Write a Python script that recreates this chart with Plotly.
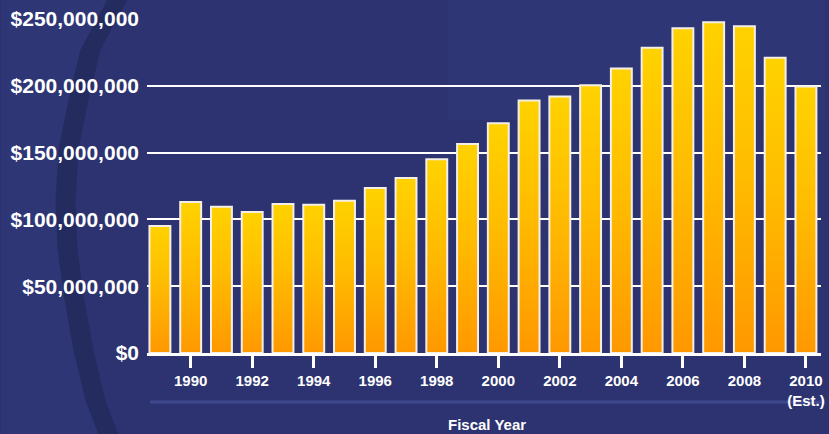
import plotly.graph_objects as go

# ---- data ----
years = list(range(1989, 2011))
values = [95e6, 113e6, 109.5e6, 105.5e6, 111.5e6, 111e6, 114e6, 123.5e6, 131e6, 145e6,
          156.5e6, 172e6, 189e6, 192e6, 200.5e6, 213e6, 228.5e6, 243e6, 247.5e6, 244.5e6,
          221e6, 199.5e6]
x_tick_vals = [1990, 1992, 1994, 1996, 1998, 2000, 2002, 2004, 2006, 2008, 2010]
x_tick_text = ["1990", "1992", "1994", "1996", "1998", "2000", "2002", "2004", "2006", "2008",
               "2010<br>(Est.)"]
y_tick_vals = [0, 50e6, 100e6, 150e6, 200e6, 250e6]
y_tick_text = ["$0", "$50,000,000", "$100,000,000", "$150,000,000", "$200,000,000", "$250,000,000"]
x_title = "Fiscal Year"

# ---- layout geometry ----
W, H = 829, 434
ML, MR, MT, MB = 147, 4, 19, 81
PW, PH = W - ML - MR, H - MT - MB
HALF = 0.34  # half bar width in category units

def px(xp, yp):
    return (xp - ML) / PW, (H - MB - yp) / PH

def path_from(points):
    pts = [px(a, b) for a, b in points]
    return "M " + " L ".join(f"{a:.4f},{b:.4f}" for a, b in pts) + " Z"

fig = go.Figure()

for yr, v in zip(years, values):
    fig.add_trace(go.Scatter(
        x=[yr - HALF, yr + HALF, yr + HALF, yr - HALF, yr - HALF],
        y=[0, 0, v, v, 0],
        mode="lines",
        fill="toself",
        fillgradient=dict(type="vertical",
                          colorscale=[[0, "#ff9800"], [0.55, "#ffbc00"], [1, "#ffd200"]]),
        line=dict(color="#f4efe6", width=2),
        hoverinfo="skip",
        showlegend=False,
    ))

font = "Arial, 'Liberation Sans', sans-serif"

# background decoration: globe edge on the left, light band near the bottom
edge = [(127, 0), (100, 50), (88, 100), (78, 150), (75, 200), (77, 250), (84, 300),
        (93, 350), (105, 400), (118, 434)]
globe = [(0, 0)] + edge + [(0, 434)]
shadow = edge + [(e[0] - 20, e[1]) for e in reversed(edge)]
shapes = [
    dict(type="rect", xref="paper", yref="paper",
         x0=px(0, 0)[0], y0=px(0, 0)[1], x1=px(W, H)[0], y1=px(W, H)[1],
         fillcolor="#2c3370", line=dict(width=0), layer="below"),
    dict(type="rect", xref="paper", yref="paper",
         x0=px(450, 0)[0], y0=px(450, 0)[1], x1=px(W, 120)[0], y1=px(W, 120)[1],
         fillcolor="rgba(60,70,150,0.18)", line=dict(width=0), layer="below"),
    dict(type="path", xref="paper", yref="paper", path=path_from(globe),
         fillcolor="#2e3675", line=dict(width=0), layer="below"),
    dict(type="path", xref="paper", yref="paper", path=path_from(shadow),
         fillcolor="rgba(18,22,55,0.35)", line=dict(width=0), layer="below"),
    dict(type="line", xref="paper", yref="paper",
         x0=px(150, 402)[0], y0=px(150, 402)[1], x1=px(W, 402)[0], y1=px(W, 402)[1],
         line=dict(color="rgba(110,120,210,0.3)", width=3), layer="below"),
]

fig.update_layout(
    width=W, height=H,
    margin=dict(l=ML, r=MR, t=MT, b=MB),
    paper_bgcolor="#2c3370",
    plot_bgcolor="rgba(0,0,0,0)",
    shapes=shapes,
    showlegend=False,
    font=dict(family=font, color="white"),
    xaxis=dict(
        range=[1988.58, 2010.49],
        tickvals=x_tick_vals, ticktext=x_tick_text,
        tickfont=dict(size=15, color="white", family=font, weight="bold"),
        ticks="outside", ticklen=12, tickwidth=3, tickcolor="white",
        showline=True, linecolor="white", linewidth=3,
        showgrid=False, zeroline=False, fixedrange=True,
    ),
    yaxis=dict(
        range=[0, 250e6],
        tickvals=y_tick_vals, ticktext=y_tick_text,
        tickfont=dict(size=21, color="white", family=font, weight="bold"),
        ticks="", ticklabelstandoff=7,
        showgrid=True, gridcolor="white", gridwidth=2,
        zeroline=False, showline=False, fixedrange=True,
    ),
    annotations=[dict(
        text=x_title, xref="paper", yref="paper",
        x=px(489, 424)[0], y=px(489, 424)[1], xanchor="center", yanchor="middle",
        showarrow=False, font=dict(size=15, color="white", family=font, weight="bold"),
    )],
)

fig.write_html("out.html", config={"displayModeBar": False},
               post_script="document.body.style.margin='0';document.body.style.overflow='hidden';")
